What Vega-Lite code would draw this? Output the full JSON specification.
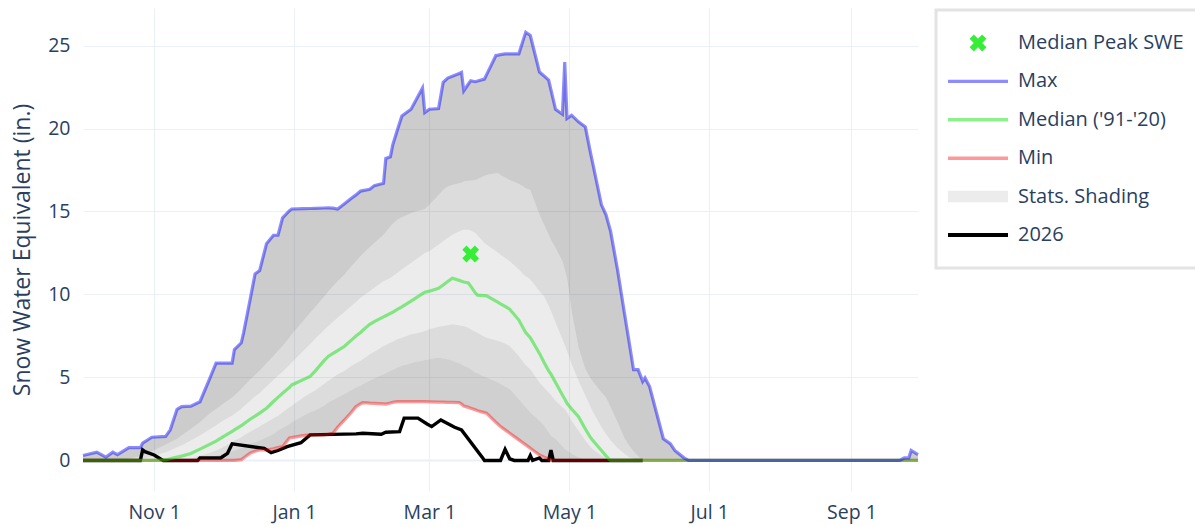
{
"$schema":"https://vega.github.io/schema/vega-lite/v6.json",
"width":835,"height":483,
"autosize":{"type":"none"},
"padding":{"left":83,"top":8,"right":277,"bottom":36},
"background":"#ffffff",
"datasets":{
"s":[
{"d":"2025-10-01","mx":0.3,"p90":0,"p70":0,"md":0,"p30":0,"p10":0,"mn":0},
{"d":"2025-10-07","mx":0.5,"p90":0,"p70":0,"md":0,"p30":0,"p10":0,"mn":0},
{"d":"2025-10-11","mx":0.2,"p90":0,"p70":0,"md":0,"p30":0,"p10":0,"mn":0},
{"d":"2025-10-14","mx":0.5,"p90":0,"p70":0,"md":0,"p30":0,"p10":0,"mn":0},
{"d":"2025-10-16","mx":0.35,"p90":0,"p70":0,"md":0,"p30":0,"p10":0,"mn":0},
{"d":"2025-10-21","mx":0.77,"p90":0.1,"p70":0,"md":0,"p30":0,"p10":0,"mn":0},
{"d":"2025-10-26","mx":0.77,"p90":0.25,"p70":0.05,"md":0,"p30":0,"p10":0,"mn":0},
{"d":"2025-10-27","mx":1.05,"p90":0.3,"p70":0.1,"md":0,"p30":0,"p10":0,"mn":0},
{"d":"2025-10-31","mx":1.4,"p90":0.55,"p70":0.22,"md":0,"p30":0,"p10":0,"mn":0},
{"d":"2025-11-06","mx":1.45,"p90":0.95,"p70":0.5,"md":0.03,"p30":0,"p10":0,"mn":0},
{"d":"2025-11-08","mx":1.83,"p90":1.1,"p70":0.6,"md":0.1,"p30":0,"p10":0,"mn":0},
{"d":"2025-11-11","mx":3.08,"p90":1.3,"p70":0.8,"md":0.2,"p30":0,"p10":0,"mn":0},
{"d":"2025-11-13","mx":3.24,"p90":1.5,"p70":0.9,"md":0.26,"p30":0.03,"p10":0,"mn":0},
{"d":"2025-11-17","mx":3.27,"p90":1.9,"p70":1.2,"md":0.42,"p30":0.12,"p10":0,"mn":0},
{"d":"2025-11-21","mx":3.54,"p90":2.3,"p70":1.5,"md":0.68,"p30":0.3,"p10":0.05,"mn":0},
{"d":"2025-11-25","mx":4.86,"p90":2.8,"p70":1.85,"md":0.95,"p30":0.45,"p10":0.15,"mn":0},
{"d":"2025-11-28","mx":5.87,"p90":3.1,"p70":2.1,"md":1.17,"p30":0.6,"p10":0.28,"mn":0},
{"d":"2025-12-01","mx":5.87,"p90":3.4,"p70":2.4,"md":1.42,"p30":0.8,"p10":0.4,"mn":0},
{"d":"2025-12-05","mx":5.87,"p90":3.8,"p70":2.7,"md":1.75,"p30":1.1,"p10":0.55,"mn":0},
{"d":"2025-12-06","mx":6.68,"p90":3.9,"p70":2.8,"md":1.84,"p30":1.2,"p10":0.6,"mn":0},
{"d":"2025-12-09","mx":7.09,"p90":4.3,"p70":3.1,"md":2.1,"p30":1.4,"p10":0.75,"mn":0.05},
{"d":"2025-12-10","mx":7.69,"p90":4.45,"p70":3.25,"md":2.2,"p30":1.5,"p10":0.8,"mn":0.15},
{"d":"2025-12-13","mx":9.8,"p90":4.9,"p70":3.6,"md":2.5,"p30":1.75,"p10":1.0,"mn":0.45},
{"d":"2025-12-15","mx":11.24,"p90":5.15,"p70":3.85,"md":2.67,"p30":1.9,"p10":1.1,"mn":0.55},
{"d":"2025-12-17","mx":11.44,"p90":5.4,"p70":4.05,"md":2.85,"p30":2.05,"p10":1.2,"mn":0.63},
{"d":"2025-12-20","mx":13.06,"p90":5.85,"p70":4.45,"md":3.15,"p30":2.3,"p10":1.4,"mn":0.63},
{"d":"2025-12-23","mx":13.57,"p90":6.3,"p70":4.85,"md":3.55,"p30":2.55,"p10":1.6,"mn":0.7},
{"d":"2025-12-25","mx":13.57,"p90":6.6,"p70":5.1,"md":3.8,"p30":2.7,"p10":1.8,"mn":0.78},
{"d":"2025-12-27","mx":14.62,"p90":6.9,"p70":5.35,"md":4.05,"p30":2.9,"p10":1.95,"mn":0.83},
{"d":"2025-12-30","mx":15.05,"p90":7.4,"p70":5.75,"md":4.4,"p30":3.2,"p10":2.2,"mn":1.35},
{"d":"2025-12-31","mx":15.15,"p90":7.6,"p70":5.9,"md":4.55,"p30":3.3,"p10":2.3,"mn":1.38},
{"d":"2026-01-05","mx":15.17,"p90":8.4,"p70":6.6,"md":4.87,"p30":3.8,"p10":2.7,"mn":1.5},
{"d":"2026-01-08","mx":15.18,"p90":8.9,"p70":7.0,"md":5.06,"p30":4.05,"p10":2.9,"mn":1.54},
{"d":"2026-01-10","mx":15.19,"p90":9.2,"p70":7.3,"md":5.35,"p30":4.2,"p10":3.0,"mn":1.54},
{"d":"2026-01-14","mx":15.21,"p90":9.85,"p70":7.85,"md":6.0,"p30":4.6,"p10":3.3,"mn":1.54},
{"d":"2026-01-16","mx":15.22,"p90":10.2,"p70":8.1,"md":6.28,"p30":4.8,"p10":3.5,"mn":1.58},
{"d":"2026-01-18","mx":15.2,"p90":10.5,"p70":8.35,"md":6.45,"p30":5.0,"p10":3.65,"mn":1.64},
{"d":"2026-01-20","mx":15.15,"p90":10.8,"p70":8.6,"md":6.62,"p30":5.2,"p10":3.8,"mn":2.0},
{"d":"2026-01-23","mx":15.47,"p90":11.2,"p70":8.95,"md":6.88,"p30":5.4,"p10":4.0,"mn":2.44},
{"d":"2026-01-26","mx":15.8,"p90":11.7,"p70":9.3,"md":7.25,"p30":5.7,"p10":4.25,"mn":2.9},
{"d":"2026-01-28","mx":16.0,"p90":12.0,"p70":9.55,"md":7.5,"p30":5.85,"p10":4.4,"mn":3.24},
{"d":"2026-01-30","mx":16.23,"p90":12.3,"p70":9.8,"md":7.7,"p30":6.0,"p10":4.5,"mn":3.42},
{"d":"2026-01-31","mx":16.26,"p90":12.45,"p70":9.9,"md":7.85,"p30":6.1,"p10":4.6,"mn":3.48},
{"d":"2026-02-03","mx":16.34,"p90":12.85,"p70":10.2,"md":8.2,"p30":6.4,"p10":4.8,"mn":3.45},
{"d":"2026-02-05","mx":16.56,"p90":13.1,"p70":10.4,"md":8.37,"p30":6.55,"p10":4.95,"mn":3.44},
{"d":"2026-02-09","mx":16.7,"p90":13.6,"p70":10.8,"md":8.65,"p30":6.9,"p10":5.2,"mn":3.41},
{"d":"2026-02-10","mx":18.2,"p90":13.75,"p70":10.85,"md":8.72,"p30":6.95,"p10":5.25,"mn":3.4},
{"d":"2026-02-12","mx":18.3,"p90":14.1,"p70":11.0,"md":8.86,"p30":7.1,"p10":5.4,"mn":3.46},
{"d":"2026-02-13","mx":19.0,"p90":14.25,"p70":11.1,"md":8.93,"p30":7.15,"p10":5.45,"mn":3.5},
{"d":"2026-02-15","mx":19.9,"p90":14.5,"p70":11.3,"md":9.1,"p30":7.3,"p10":5.6,"mn":3.54},
{"d":"2026-02-17","mx":20.75,"p90":14.65,"p70":11.5,"md":9.25,"p30":7.4,"p10":5.7,"mn":3.54},
{"d":"2026-02-21","mx":21.16,"p90":14.9,"p70":11.9,"md":9.6,"p30":7.6,"p10":5.85,"mn":3.54},
{"d":"2026-02-23","mx":21.67,"p90":15.0,"p70":12.1,"md":9.78,"p30":7.65,"p10":5.95,"mn":3.54},
{"d":"2026-02-26","mx":22.44,"p90":15.1,"p70":12.4,"md":10.05,"p30":7.75,"p10":6.0,"mn":3.54},
{"d":"2026-02-27","mx":20.96,"p90":15.15,"p70":12.5,"md":10.13,"p30":7.8,"p10":6.05,"mn":3.54},
{"d":"2026-03-01","mx":21.16,"p90":15.4,"p70":12.6,"md":10.2,"p30":7.9,"p10":6.1,"mn":3.53},
{"d":"2026-03-05","mx":21.2,"p90":16.0,"p70":13.0,"md":10.37,"p30":8.05,"p10":6.2,"mn":3.52},
{"d":"2026-03-07","mx":22.78,"p90":16.3,"p70":13.2,"md":10.57,"p30":8.1,"p10":6.15,"mn":3.51},
{"d":"2026-03-09","mx":23.04,"p90":16.5,"p70":13.4,"md":10.78,"p30":8.15,"p10":6.1,"mn":3.5},
{"d":"2026-03-11","mx":23.15,"p90":16.6,"p70":13.6,"md":10.98,"p30":8.2,"p10":6.0,"mn":3.5},
{"d":"2026-03-14","mx":23.32,"p90":16.7,"p70":13.8,"md":10.85,"p30":8.15,"p10":5.85,"mn":3.48},
{"d":"2026-03-15","mx":23.38,"p90":16.75,"p70":13.85,"md":10.8,"p30":8.1,"p10":5.8,"mn":3.4},
{"d":"2026-03-16","mx":22.27,"p90":16.8,"p70":13.9,"md":10.75,"p30":8.1,"p10":5.7,"mn":3.28},
{"d":"2026-03-18","mx":22.68,"p90":16.85,"p70":13.9,"md":10.69,"p30":8.0,"p10":5.6,"mn":3.2},
{"d":"2026-03-19","mx":22.88,"p90":16.85,"p70":13.85,"md":10.5,"p30":7.9,"p10":5.5,"mn":3.15},
{"d":"2026-03-21","mx":22.82,"p90":16.9,"p70":13.7,"md":10.1,"p30":7.75,"p10":5.3,"mn":3.05},
{"d":"2026-03-22","mx":22.86,"p90":16.95,"p70":13.55,"md":9.96,"p30":7.7,"p10":5.25,"mn":3.0},
{"d":"2026-03-25","mx":22.98,"p90":17.15,"p70":13.1,"md":9.93,"p30":7.45,"p10":5.05,"mn":2.88},
{"d":"2026-03-26","mx":23.26,"p90":17.2,"p70":13.0,"md":9.92,"p30":7.4,"p10":5.0,"mn":2.84},
{"d":"2026-03-30","mx":24.4,"p90":17.3,"p70":12.6,"md":9.6,"p30":7.25,"p10":4.75,"mn":2.3},
{"d":"2026-03-31","mx":24.42,"p90":17.3,"p70":12.5,"md":9.52,"p30":7.2,"p10":4.7,"mn":2.17},
{"d":"2026-04-01","mx":24.45,"p90":17.2,"p70":12.4,"md":9.44,"p30":7.15,"p10":4.6,"mn":2.04},
{"d":"2026-04-03","mx":24.5,"p90":17.05,"p70":12.2,"md":9.28,"p30":7.05,"p10":4.45,"mn":1.84},
{"d":"2026-04-05","mx":24.5,"p90":16.9,"p70":12.0,"md":9.11,"p30":6.9,"p10":4.3,"mn":1.64},
{"d":"2026-04-09","mx":24.5,"p90":16.65,"p70":11.5,"md":8.46,"p30":6.3,"p10":3.7,"mn":1.24},
{"d":"2026-04-11","mx":25.37,"p90":16.5,"p70":11.2,"md":7.95,"p30":5.9,"p10":3.35,"mn":1.04},
{"d":"2026-04-12","mx":25.8,"p90":16.4,"p70":11.1,"md":7.7,"p30":5.75,"p10":3.2,"mn":0.94},
{"d":"2026-04-14","mx":25.6,"p90":16.3,"p70":10.9,"md":7.4,"p30":5.5,"p10":2.9,"mn":0.74},
{"d":"2026-04-18","mx":23.4,"p90":14.8,"p70":10.2,"md":6.45,"p30":4.7,"p10":2.4,"mn":0.33},
{"d":"2026-04-20","mx":23.16,"p90":14.2,"p70":9.9,"md":5.9,"p30":4.4,"p10":2.1,"mn":0.2},
{"d":"2026-04-22","mx":22.92,"p90":13.6,"p70":9.3,"md":5.4,"p30":4.1,"p10":1.7,"mn":0.08},
{"d":"2026-04-23","mx":22.33,"p90":13.3,"p70":9.0,"md":5.2,"p30":3.95,"p10":1.5,"mn":0},
{"d":"2026-04-25","mx":21.16,"p90":12.8,"p70":8.3,"md":4.7,"p30":3.6,"p10":1.3,"mn":0},
{"d":"2026-04-28","mx":20.86,"p90":12.0,"p70":7.3,"md":3.94,"p30":3.2,"p10":0.85,"mn":0},
{"d":"2026-04-29","mx":24.0,"p90":11.5,"p70":6.95,"md":3.7,"p30":3.1,"p10":0.7,"mn":0},
{"d":"2026-04-30","mx":20.6,"p90":11.0,"p70":6.6,"md":3.44,"p30":2.9,"p10":0.6,"mn":0},
{"d":"2026-05-02","mx":20.8,"p90":9.0,"p70":5.8,"md":3.1,"p30":2.4,"p10":0.4,"mn":0},
{"d":"2026-05-05","mx":20.4,"p90":6.8,"p70":4.8,"md":2.64,"p30":1.8,"p10":0.2,"mn":0},
{"d":"2026-05-08","mx":20.1,"p90":5.5,"p70":3.9,"md":1.9,"p30":1.2,"p10":0.05,"mn":0},
{"d":"2026-05-10","mx":18.7,"p90":5.0,"p70":3.3,"md":1.43,"p30":0.85,"p10":0,"mn":0},
{"d":"2026-05-11","mx":18.04,"p90":4.8,"p70":3.0,"md":1.25,"p30":0.7,"p10":0,"mn":0},
{"d":"2026-05-15","mx":15.4,"p90":4.1,"p70":2.0,"md":0.6,"p30":0.3,"p10":0,"mn":0},
{"d":"2026-05-17","mx":14.8,"p90":3.8,"p70":1.6,"md":0.28,"p30":0.15,"p10":0,"mn":0},
{"d":"2026-05-18","mx":14.3,"p90":3.5,"p70":1.4,"md":0.13,"p30":0.1,"p10":0,"mn":0},
{"d":"2026-05-19","mx":13.8,"p90":3.2,"p70":1.2,"md":0,"p30":0,"p10":0,"mn":0},
{"d":"2026-05-22","mx":11.5,"p90":2.3,"p70":0.75,"md":0,"p30":0,"p10":0,"mn":0},
{"d":"2026-05-25","mx":8.9,"p90":1.35,"p70":0.4,"md":0,"p30":0,"p10":0,"mn":0},
{"d":"2026-05-27","mx":7.2,"p90":0.9,"p70":0.2,"md":0,"p30":0,"p10":0,"mn":0},
{"d":"2026-05-29","mx":5.47,"p90":0.55,"p70":0.1,"md":0,"p30":0,"p10":0,"mn":0},
{"d":"2026-05-31","mx":5.47,"p90":0.25,"p70":0.03,"md":0,"p30":0,"p10":0,"mn":0},
{"d":"2026-06-02","mx":4.76,"p90":0,"p70":0,"md":0,"p30":0,"p10":0,"mn":0},
{"d":"2026-06-03","mx":4.97,"p90":0,"p70":0,"md":0,"p30":0,"p10":0,"mn":0},
{"d":"2026-06-05","mx":4.45,"p90":0,"p70":0,"md":0,"p30":0,"p10":0,"mn":0},
{"d":"2026-06-11","mx":1.31,"p90":0,"p70":0,"md":0,"p30":0,"p10":0,"mn":0},
{"d":"2026-06-14","mx":1.01,"p90":0,"p70":0,"md":0,"p30":0,"p10":0,"mn":0},
{"d":"2026-06-16","mx":0.6,"p90":0,"p70":0,"md":0,"p30":0,"p10":0,"mn":0},
{"d":"2026-06-20","mx":0.16,"p90":0,"p70":0,"md":0,"p30":0,"p10":0,"mn":0},
{"d":"2026-06-22","mx":0,"p90":0,"p70":0,"md":0,"p30":0,"p10":0,"mn":0},
{"d":"2026-09-22","mx":0,"p90":0,"p70":0,"md":0,"p30":0,"p10":0,"mn":0},
{"d":"2026-09-24","mx":0.15,"p90":0,"p70":0,"md":0,"p30":0,"p10":0,"mn":0},
{"d":"2026-09-26","mx":0.15,"p90":0,"p70":0,"md":0,"p30":0,"p10":0,"mn":0},
{"d":"2026-09-27","mx":0.6,"p90":0,"p70":0,"md":0,"p30":0,"p10":0,"mn":0},
{"d":"2026-09-30","mx":0.35,"p90":0,"p70":0,"md":0,"p30":0,"p10":0,"mn":0}
],
"c":[
{"d":"2025-10-01","v":0},{"d":"2025-10-26","v":0},{"d":"2025-10-27","v":0.63},{"d":"2025-10-28","v":0.53},
{"d":"2025-11-01","v":0.33},{"d":"2025-11-04","v":0.07},{"d":"2025-11-05","v":0},{"d":"2025-11-20","v":0},
{"d":"2025-11-21","v":0.15},{"d":"2025-11-30","v":0.15},{"d":"2025-12-03","v":0.43},{"d":"2025-12-05","v":1.0},
{"d":"2025-12-19","v":0.73},{"d":"2025-12-22","v":0.47},{"d":"2025-12-25","v":0.6},{"d":"2025-12-29","v":0.83},
{"d":"2026-01-04","v":1.07},{"d":"2026-01-08","v":1.54},{"d":"2026-01-28","v":1.6},{"d":"2026-01-31","v":1.64},
{"d":"2026-02-08","v":1.58},{"d":"2026-02-10","v":1.7},{"d":"2026-02-16","v":1.74},{"d":"2026-02-18","v":2.55},
{"d":"2026-02-24","v":2.55},{"d":"2026-02-28","v":2.2},{"d":"2026-03-02","v":2.04},{"d":"2026-03-06","v":2.44},
{"d":"2026-03-12","v":2.0},{"d":"2026-03-15","v":1.84},{"d":"2026-03-24","v":0.2},{"d":"2026-03-25","v":0},
{"d":"2026-04-01","v":0},{"d":"2026-04-03","v":0.67},{"d":"2026-04-05","v":0.1},{"d":"2026-04-07","v":0},
{"d":"2026-04-13","v":0},{"d":"2026-04-14","v":0.3},{"d":"2026-04-15","v":0},{"d":"2026-04-18","v":0.15},
{"d":"2026-04-19","v":0},{"d":"2026-04-22","v":0},{"d":"2026-04-23","v":0.63},{"d":"2026-04-24","v":0},
{"d":"2026-06-02","v":0}
],
"pk":[{"d":"2026-03-19","v":12.44,"s":"Median Peak SWE"}]
},
"encoding":{
"x":{"field":"d","type":"temporal",
"scale":{"type":"utc","domain":[{"year":2025,"month":10,"date":1,"utc":true},{"year":2026,"month":9,"date":30,"utc":true}],"nice":false},
"axis":{"values":[{"year":2025,"month":11,"date":1,"utc":true},{"year":2026,"month":1,"date":1,"utc":true},{"year":2026,"month":3,"date":1,"utc":true},{"year":2026,"month":5,"date":1,"utc":true},{"year":2026,"month":7,"date":1,"utc":true},{"year":2026,"month":9,"date":1,"utc":true}],
"format":"%b %e","title":null,"labelPadding":12,"labelFlush":false}}
},
"layer":[
{"data":{"name":"s"},"mark":{"type":"area","color":"#000000","opacity":0.2},
"encoding":{"y":{"field":"mx","type":"quantitative","scale":{"domain":[-1.84,27.26],"nice":false,"zero":false},
"axis":{"values":[0,5,10,15,20,25],"title":"Snow Water Equivalent (in.)","titleFontSize":23,"titleX":-61,"titleY":241.5,"titleAngle":-90,"titleAlign":"center","titleBaseline":"middle","labelPadding":13,"gridWidth":{"condition":{"test":"datum.value===0","value":2},"value":1}}},
"y2":{"field":"p90"}}},
{"data":{"name":"s"},"mark":{"type":"area","color":"#000000","opacity":0.137},
"encoding":{"y":{"field":"p90","type":"quantitative","scale":{"domain":[-1.84,27.26],"nice":false,"zero":false},
"axis":{"values":[0,5,10,15,20,25],"title":"Snow Water Equivalent (in.)","titleFontSize":23,"titleX":-61,"titleY":241.5,"titleAngle":-90,"titleAlign":"center","titleBaseline":"middle","labelPadding":13,"gridWidth":{"condition":{"test":"datum.value===0","value":2},"value":1}}},"y2":{"field":"p70"}}},
{"data":{"name":"s"},"mark":{"type":"area","color":"#000000","opacity":0.075},
"encoding":{"y":{"field":"p70","type":"quantitative","scale":{"domain":[-1.84,27.26],"nice":false,"zero":false},
"axis":{"values":[0,5,10,15,20,25],"title":"Snow Water Equivalent (in.)","titleFontSize":23,"titleX":-61,"titleY":241.5,"titleAngle":-90,"titleAlign":"center","titleBaseline":"middle","labelPadding":13,"gridWidth":{"condition":{"test":"datum.value===0","value":2},"value":1}}},"y2":{"field":"p30"}}},
{"data":{"name":"s"},"mark":{"type":"area","color":"#000000","opacity":0.137},
"encoding":{"y":{"field":"p30","type":"quantitative","scale":{"domain":[-1.84,27.26],"nice":false,"zero":false},
"axis":{"values":[0,5,10,15,20,25],"title":"Snow Water Equivalent (in.)","titleFontSize":23,"titleX":-61,"titleY":241.5,"titleAngle":-90,"titleAlign":"center","titleBaseline":"middle","labelPadding":13,"gridWidth":{"condition":{"test":"datum.value===0","value":2},"value":1}}},"y2":{"field":"p10"}}},
{"data":{"name":"s"},"mark":{"type":"area","color":"#000000","opacity":0.185},
"encoding":{"y":{"field":"p10","type":"quantitative","scale":{"domain":[-1.84,27.26],"nice":false,"zero":false},
"axis":{"values":[0,5,10,15,20,25],"title":"Snow Water Equivalent (in.)","titleFontSize":23,"titleX":-61,"titleY":241.5,"titleAngle":-90,"titleAlign":"center","titleBaseline":"middle","labelPadding":13,"gridWidth":{"condition":{"test":"datum.value===0","value":2},"value":1}}},"y2":{"field":"mn"}}},
{"data":{"name":"c"},"mark":{"type":"line","color":"#000000","strokeWidth":3.4},
"encoding":{"y":{"field":"v","type":"quantitative","scale":{"domain":[-1.84,27.26],"nice":false,"zero":false},
"axis":{"values":[0,5,10,15,20,25],"title":"Snow Water Equivalent (in.)","titleFontSize":23,"titleX":-61,"titleY":241.5,"titleAngle":-90,"titleAlign":"center","titleBaseline":"middle","labelPadding":13,"gridWidth":{"condition":{"test":"datum.value===0","value":2},"value":1}}}}},
{"data":{"name":"s"},"mark":{"type":"line","color":"#ff0000","opacity":0.4,"strokeWidth":3.2},
"encoding":{"y":{"field":"mn","type":"quantitative","scale":{"domain":[-1.84,27.26],"nice":false,"zero":false},
"axis":{"values":[0,5,10,15,20,25],"title":"Snow Water Equivalent (in.)","titleFontSize":23,"titleX":-61,"titleY":241.5,"titleAngle":-90,"titleAlign":"center","titleBaseline":"middle","labelPadding":13,"gridWidth":{"condition":{"test":"datum.value===0","value":2},"value":1}}}}},
{"data":{"name":"s"},"mark":{"type":"line","color":"#00e000","opacity":0.45,"strokeWidth":3.2},
"encoding":{"y":{"field":"md","type":"quantitative","scale":{"domain":[-1.84,27.26],"nice":false,"zero":false},
"axis":{"values":[0,5,10,15,20,25],"title":"Snow Water Equivalent (in.)","titleFontSize":23,"titleX":-61,"titleY":241.5,"titleAngle":-90,"titleAlign":"center","titleBaseline":"middle","labelPadding":13,"gridWidth":{"condition":{"test":"datum.value===0","value":2},"value":1}}}}},
{"data":{"name":"s"},"mark":{"type":"line","color":"#0000ff","opacity":0.45,"strokeWidth":3.2},
"encoding":{"y":{"field":"mx","type":"quantitative","scale":{"domain":[-1.84,27.26],"nice":false,"zero":false},
"axis":{"values":[0,5,10,15,20,25],"title":"Snow Water Equivalent (in.)","titleFontSize":23,"titleX":-61,"titleY":241.5,"titleAngle":-90,"titleAlign":"center","titleBaseline":"middle","labelPadding":13,"gridWidth":{"condition":{"test":"datum.value===0","value":2},"value":1}}}}},
{"data":{"name":"pk"},"mark":{"type":"point","filled":true,"size":2500,"opacity":1},
"encoding":{"y":{"field":"v","type":"quantitative","scale":{"domain":[-1.84,27.26],"nice":false,"zero":false},
"axis":{"values":[0,5,10,15,20,25],"title":"Snow Water Equivalent (in.)","titleFontSize":23,"titleX":-61,"titleY":241.5,"titleAngle":-90,"titleAlign":"center","titleBaseline":"middle","labelPadding":13,"gridWidth":{"condition":{"test":"datum.value===0","value":2},"value":1}}},
"color":{"field":"s","type":"nominal","scale":{"domain":["Median Peak SWE","Max","Median ('91-'20)","Min","Stats. Shading","2026"],"range":["#37ee37","#8c8cff","#8cf18c","#ff9999","#ececec","#000000"]},"legend":{"title":null}},
"shape":{"field":"s","type":"nominal","scale":{"domain":["Median Peak SWE","Max","Median ('91-'20)","Min","Stats. Shading","2026"],"range":["M0,-0.17L0.166,-0.336L0.336,-0.166L0.17,0L0.336,0.166L0.166,0.336L0,0.17L-0.166,0.336L-0.336,0.166L-0.17,0L-0.336,-0.166L-0.166,-0.336Z","M-1.2,-0.068H1.2V0.068H-1.2ZM9.2,0L9.21,0","M-1.2,-0.068H1.2V0.068H-1.2ZM9.2,0L9.21,0","M-1.2,-0.068H1.2V0.068H-1.2ZM9.2,0L9.21,0","M-1.2,-0.23H1.2V0.23H-1.2ZM9.2,0L9.21,0","M-1.2,-0.08H1.2V0.08H-1.2ZM9.2,0L9.21,0M0,1L0.01,1"]},"legend":{"title":null}}}}
],
"config":{
"view":{"stroke":null},
"font":"Open Sans",
"axis":{"grid":true,"gridColor":"#EBF0F8","domain":false,"ticks":false,"tickSize":0,"labelFont":"Open Sans","labelFontSize":19.5,"labelColor":"#2a3f5f","titleFont":"Open Sans","titleColor":"#2a3f5f","titleFontWeight":"normal"},
"legend":{"orient":"none","legendX":853,"legendY":2,"padding":8,"strokeColor":"#e3e3e3","strokeWidth":3,"fillColor":"#ffffff","labelFont":"Open Sans","labelFontSize":20,"labelColor":"#2a3f5f","symbolSize":2500,"symbolStrokeWidth":0,"symbolOffset":9,"labelOffset":15,"rowPadding":3.4,"labelLimit":400}
}
}
